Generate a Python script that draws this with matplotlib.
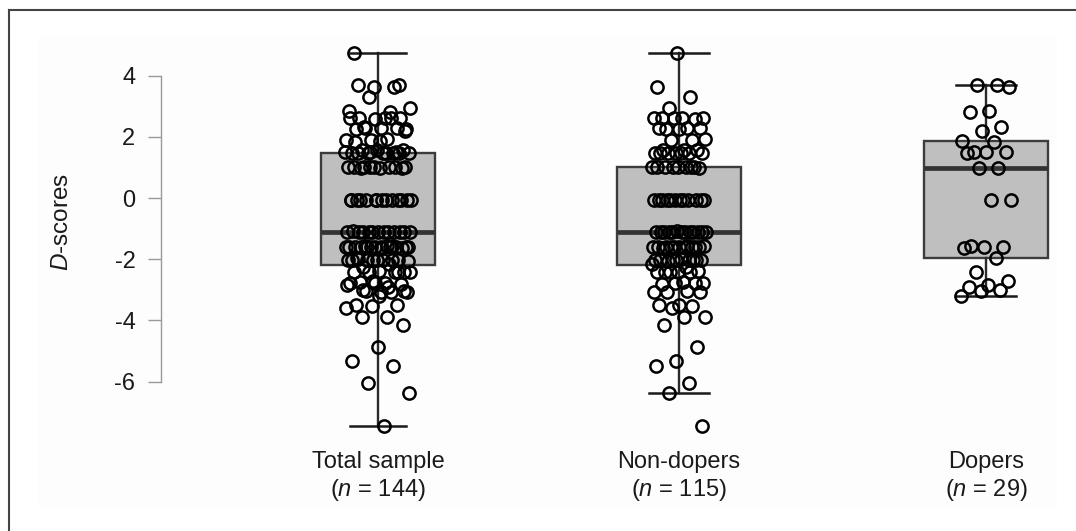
import numpy as np
import matplotlib.pyplot as plt
from matplotlib.patches import Rectangle
from matplotlib.lines import Line2D
import matplotlib.transforms as mtransforms

plt.rcParams['font.family'] = ['Liberation Sans', 'DejaVu Sans']
plt.rcParams['mathtext.fontset'] = 'custom'
plt.rcParams['mathtext.rm'] = 'Liberation Sans'
plt.rcParams['mathtext.it'] = 'Liberation Sans:italic'

# D-scores (values sit on a few discrete levels)
non_dopers = [
    4.75, 3.64, 3.29, 2.93,
    2.62, 2.6, 2.6, 2.58, 2.6, 2.61,
    2.28, 2.27, 2.3, 2.25, 2.28,
    1.9, 1.88, 1.92,
    1.57, 1.56, 1.58,
    1.47, 1.47, 1.48, 1.46, 1.47, 1.47, 1.48,
    1.0, 1.0, 1.0, 1.01, 1.0, 0.99, 1.0, 1.0, 1.0,
    -0.07, -0.07, -0.06, -0.07, -0.07, -0.07, -0.08, -0.07, -0.07, -0.06, -0.07, -0.07,
    -1.1, -1.1, -1.1, -1.11, -1.1, -1.1, -1.09, -1.1, -1.1, -1.1, -1.12, -1.1, -1.1,
    -1.59, -1.59, -1.6, -1.58, -1.59, -1.59, -1.61, -1.59, -1.6, -1.59, -1.57, -1.59, -1.62,
    -2.03, -2.03, -2.02, -2.03, -2.05, -2.03, -2.0, -2.03, -2.04, -2.03, -2.15,
    -2.25, -2.41, -2.4, -2.41, -2.42, -2.41, -2.43,
    -2.78, -2.76, -2.8, -2.78, -2.79,
    -3.06, -3.05, -3.08, -3.06,
    -3.5, -3.48, -3.52, -3.6,
    -3.88, -3.9, -4.15,
    -4.87, -5.33, -5.49, -6.05, -6.37, -7.45,
]
dopers = [
    3.69, 3.7, 3.62, 2.84, 2.8, 2.33, 2.2, 1.86, 1.84, 1.52, 1.51, 1.5, 1.48,
    0.97, 0.97, -0.06, -0.07,
    -1.58, -1.59, -1.6, -1.62, -1.97, -2.41,
    -2.72, -2.85, -2.9, -3.0, -3.05, -3.2,
]
total_sample = non_dopers + dopers

groups = ['Total sample', 'Non-dopers', 'Dopers']
n_labels = ['144', '115', '29']
y_ticks = [-6, -4, -2, 0, 2, 4]

data = [total_sample, non_dopers, dopers]
positions = [1.0, 2.0, 3.02]

W, H = 1076, 531
fig = plt.figure(figsize=(W / 100, H / 100), dpi=100)
fig.patch.set_facecolor('white')

# very faint inner panel + outer frame (top and left edge visible)
fig.patches.append(Rectangle((37 / W, 1 - 507 / H), (1057 - 37) / W, (507 - 37) / H,
                             transform=fig.transFigure, facecolor='#fdfdfd',
                             edgecolor='none', zorder=-5))
fig.lines.append(Line2D([9 / W, 1], [1 - 10 / H, 1 - 10 / H], transform=fig.transFigure,
                        color='#444444', lw=1.5, zorder=-4))
fig.lines.append(Line2D([9 / W, 9 / W], [0, 1 - 10 / H], transform=fig.transFigure,
                        color='#444444', lw=1.5, zorder=-4))

ax = fig.add_axes([161 / W, 1 - 436.7 / H, (1060 - 161) / W, (436.7 - 38.9) / H])
ax.patch.set_alpha(0)
ax.set_xlim(0.279, 3.266)
ax.set_ylim(-7.8, 5.2)

ax.boxplot(data, positions=positions, widths=[0.38, 0.41, 0.41],
           capwidths=[0.186, 0.2, 0.2], whis=1.5, showfliers=False,
           patch_artist=True, manage_ticks=False,
           boxprops=dict(facecolor='#bfbfbf', edgecolor='#3c3c3c', linewidth=1.7),
           medianprops=dict(color='#333333', linewidth=3.4),
           whiskerprops=dict(color='#2a2a2a', linewidth=1.7),
           capprops=dict(color='#1a1a1a', linewidth=1.8),
           zorder=2)

# horizontal spread of the points (low-discrepancy sequence, not random)
spreads = [0.11, 0.09, 0.085]
phases = [0.13, 0.47, 0.71]
for vals, pos, sp, ph in zip(data, positions, spreads, phases):
    idx = np.arange(len(vals))
    frac = (idx * 0.6180339887 + ph) % 1.0
    xs = pos + (frac - 0.5) * 2 * sp
    ax.plot(xs, vals, 'o', ms=8.8, mfc='none', mec='black', mew=1.8, zorder=3,
            linestyle='none')

for s in ['top', 'right', 'bottom']:
    ax.spines[s].set_visible(False)
ax.spines['left'].set_bounds(-6, 4)
ax.spines['left'].set_color('#999999')
ax.spines['left'].set_linewidth(1.0)
ax.set_yticks(y_ticks)
ax.set_yticklabels([str(t) for t in y_ticks])
ax.tick_params(axis='y', length=9.4, width=1.0, color='#999999', pad=9,
               labelsize=17, labelcolor='#1a1a1a')
ax.set_xticks([])

trans = mtransforms.blended_transform_factory(ax.transData, fig.transFigure)
for pos, g, n in zip(positions, groups, n_labels):
    ax.text(pos, 1 - 462 / H, g, transform=trans, ha='center', va='center',
            fontsize=17, color='#1a1a1a')
    ax.text(pos, 1 - 490 / H, '($n$ = ' + n + ')', transform=trans, ha='center',
            va='center', fontsize=17, color='#1a1a1a')

fig.text(62 / W, 1 - 222 / H, '$D$-scores', rotation=90, ha='center', va='center',
         fontsize=17.5, color='#1a1a1a')

fig.savefig('out.png', dpi=100)
